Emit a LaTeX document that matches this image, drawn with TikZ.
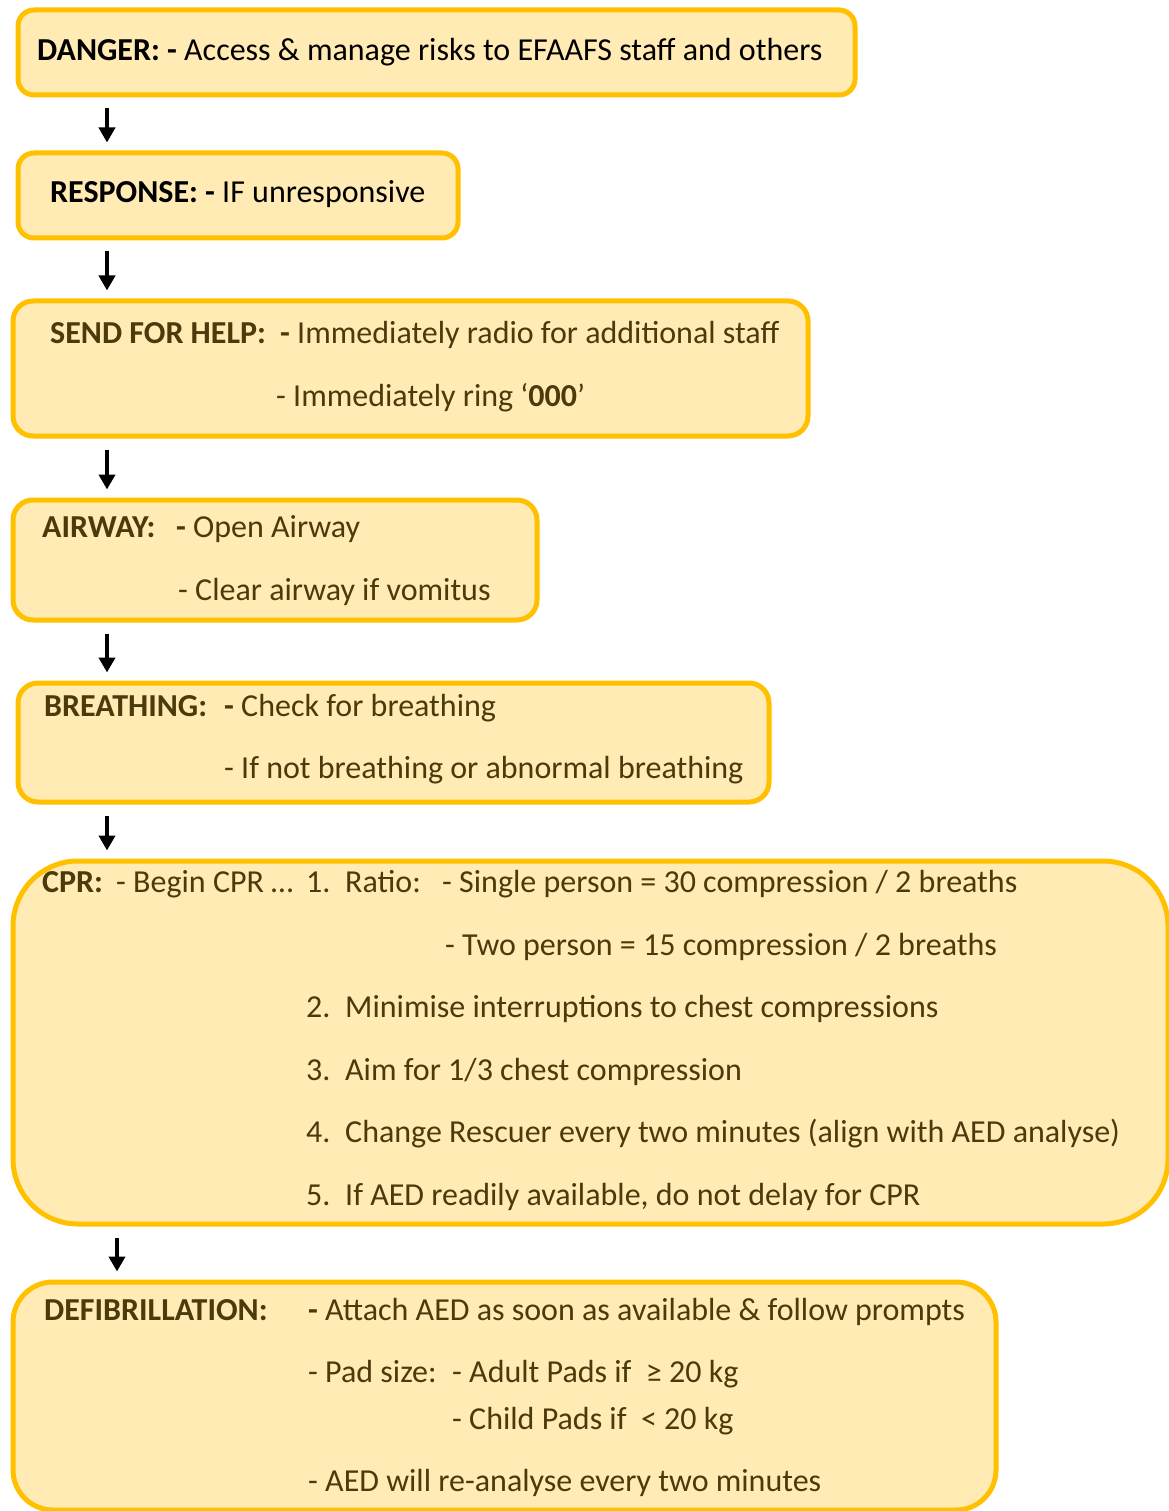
\documentclass[tikz,border=0pt]{standalone}
\usepackage{fontspec}
\setmainfont{Carlito}
\usetikzlibrary{arrows.meta}
\definecolor{boxfill}{RGB}{255,235,179}
\definecolor{boxline}{RGB}{255,192,0}
\definecolor{txt}{RGB}{74,58,12}
\begin{document}
\begin{tikzpicture}[x=1pt,y=-1pt,
 box/.style={draw=boxline, fill=boxfill, line width=5pt, rounded corners=16pt, anchor=north west, inner sep=0pt},
 t/.style={anchor=base west, inner sep=0pt, text=txt, font=\fontsize{32}{38}\selectfont},
 tk/.style={t, text=black},
 arr/.style={line width=4.5pt, -{Triangle[width=16pt,length=15pt]}, shorten <=11pt, shorten >=8pt}]
\useasboundingbox (0,0) rectangle (1168,1511);
% boxes
\node[box, minimum width=837pt, minimum height=85pt] (danger) at (15.5,7.5) {};
\node[box, minimum width=440pt, minimum height=85pt] (response) at (15.5,150.5) {};
\node[box, rounded corners=20pt, minimum width=795pt, minimum height=135pt] (help) at (10.5,298.5) {};
\node[box, rounded corners=20pt, minimum width=524pt, minimum height=120pt] (airway) at (10.5,497.5) {};
\node[box, rounded corners=20pt, minimum width=751pt, minimum height=119pt] (breath) at (15.5,680.5) {};
\node[box, rounded corners=65pt, minimum width=1155pt, minimum height=363pt] (cpr) at (10.5,858.5) {};
\node[box, rounded corners=40pt, minimum width=983pt, minimum height=228pt] (defib) at (10.5,1279.5) {};
% arrows
\coordinate (ax) at (107,0);
\coordinate (bx) at (117,0);
\draw[arr] (danger.south -| ax) -- (response.north -| ax);
\draw[arr] (response.south -| ax) -- (help.north -| ax);
\draw[arr] (help.south -| ax) -- (airway.north -| ax);
\draw[arr] (airway.south -| ax) -- (breath.north -| ax);
\draw[arr] (breath.south -| ax) -- (cpr.north -| ax);
\draw[arr] (cpr.south -| bx) -- (defib.north -| bx);
% texts
\node[tk] (t1) at (37,61) {\bfseries DANGER: -\mdseries{} Access \& manage risks to EFAAFS staff and others};
\node[tk] (t2) at (50,203) {\bfseries RESPONSE: -\mdseries{} IF unresponsive};
\node[t] (t3a) at (50,343) {\bfseries SEND FOR HELP:};
\node[t] (t3b) at (280,343) {\bfseries -\mdseries{} Immediately radio for additional staff};
\node[t] (t3c) at (276,406) {- Immediately ring ‘\textbf{000}’};
\node[t] (t4a) at (42,537) {\bfseries AIRWAY:};
\node[t] (t4b) at (176,537) {\bfseries -\mdseries{} Open Airway};
\node[t] (t4c) at (178,600) {- Clear airway if vomitus};
\node[t] (t5a) at (44,716) {\bfseries BREATHING:};
\node[t] (t5b) at (224,716) {\bfseries -\mdseries{} Check for breathing};
\node[t] (t5c) at (224,778) {- If not breathing or abnormal breathing};
\node[t] (t6a) at (42,892) {\bfseries CPR:};
\node[t] (t6b) at (116,892) {- Begin CPR …};
\node[t] (n1) at (306,892) {1.};
\node[t] (r1) at (345,892) {Ratio:};
\node[t] (s1) at (442,892) {- Single person = 30 compression / 2 breaths};
\node[t] (s2) at (445,955) {- Two person = 15 compression / 2 breaths};
\node[t] (n2) at (306,1017) {2.};
\node[t] (i2) at (345,1017) {Minimise interruptions to chest compressions};
\node[t] (n3) at (306,1080) {3.};
\node[t] (i3) at (345,1080) {Aim for 1/3 chest compression};
\node[t] (n4) at (306,1142) {4.};
\node[t] (i4) at (345,1142) {Change Rescuer every two minutes (align with AED analyse)};
\node[t] (n5) at (306,1205) {5.};
\node[t] (i5) at (345,1205) {If AED readily available, do not delay for CPR};
\node[t] (t7a) at (44,1320) {\bfseries DEFIBRILLATION:};
\node[t] (t7b) at (308,1320) {\bfseries -\mdseries{} Attach AED as soon as available \& follow prompts};
\node[t] (t7c) at (308,1382) {- Pad size:};
\node[t] (t7d) at (452,1382) {- Adult Pads if \ ≥ 20 kg};
\node[t] (t7e) at (452,1429) {- Child Pads if \ < 20 kg};
\node[t] (t7f) at (308,1491) {- AED will re-analyse every two minutes};
\end{tikzpicture}
\end{document}
